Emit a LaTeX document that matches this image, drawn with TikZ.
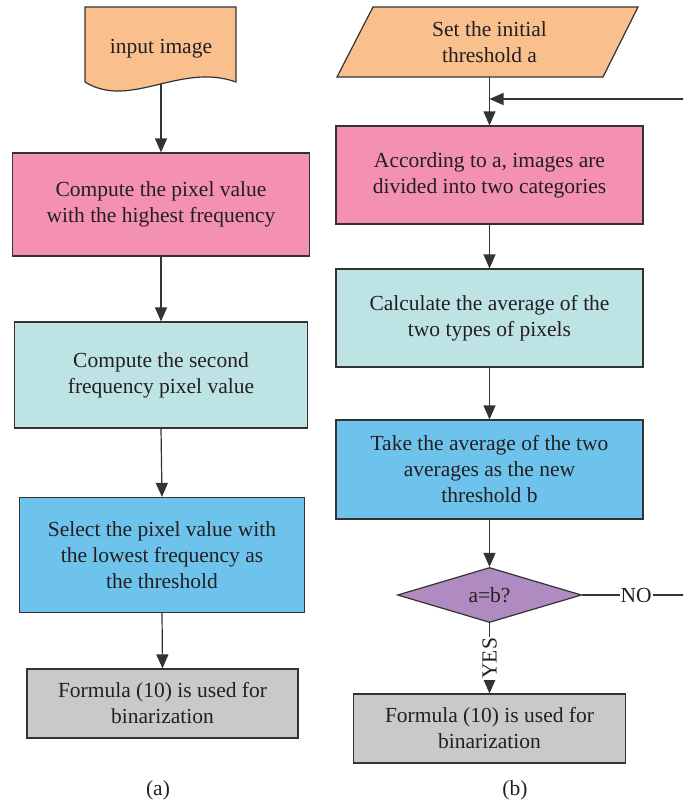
\documentclass[tikz,border=0pt]{standalone}
\usepackage{fontspec}
\setmainfont{Liberation Serif}
\usetikzlibrary{arrows.meta,shapes.geometric}
\definecolor{orangef}{HTML}{F9C08E}
\definecolor{pinkf}{HTML}{F390B4}
\definecolor{cyanf}{HTML}{BEE3E4}
\definecolor{bluef}{HTML}{6EC3EC}
\definecolor{grayf}{HTML}{C8C9CB}
\definecolor{purplef}{HTML}{B08BC2}
\definecolor{linec}{HTML}{333333}
\definecolor{textc}{HTML}{231F20}
\tikzset{
  every node/.style={font=\fontsize{21.5}{26}\selectfont, text=textc},
  flowbox/.style={draw=linec, line width=1.2pt, align=center, inner sep=0pt},
  flowarrow/.style={draw=linec, line width=1.2pt, -{Triangle[length=14pt,width=12pt]}},
  flowline/.style={draw=linec, line width=1.2pt},
  lbl/.style={fill=white, inner sep=1pt}
}
\begin{document}
\begin{tikzpicture}[x=1pt,y=-1pt]
\useasboundingbox (0,0) rectangle (683,803);
\clip (0,0) rectangle (683,803);
% ---------- (a) ----------
\fill[orangef] (85,7) -- (236,7) -- (236,82) .. controls (180,62) and (130,110) .. (85,82) -- cycle;
\draw[flowline] (85,7) -- (236,7) -- (236,82) .. controls (180,62) and (130,110) .. (85,82) -- cycle;
\node[align=center, inner sep=0pt, minimum height=70pt, minimum width=151pt] (inp) at (161,49) {input image};
\node[flowbox, fill=pinkf, minimum width=297pt, minimum height=103pt] (a1) at (161,204.5) {Compute the pixel value\\with the highest frequency};
\node[flowbox, fill=cyanf, minimum width=293pt, minimum height=106pt] (a2) at (161,375) {Compute the second\\frequency pixel value};
\node[flowbox, fill=bluef, minimum width=285pt, minimum height=115pt] (a3) at (162,555) {Select the pixel value with\\the lowest frequency as\\the threshold};
\node[flowbox, fill=grayf, minimum width=271pt, minimum height=69pt] (a4) at (162.5,703.5) {Formula (10) is used for\\binarization};
\draw[flowarrow] (inp.south) -- (a1.north);
\draw[flowarrow] (a1.south) -- (a2.north);
\draw[flowarrow] (a2.south) -- (a3.north);
\draw[flowarrow] (a3.south) -- (a4.north);
\node (capa) at (158,790) {(a)};
% ---------- (b) ----------
\fill[orangef] (373,7) -- (638,7) -- (603,77) -- (337,77) -- cycle;
\draw[flowline] (373,7) -- (638,7) -- (603,77) -- (337,77) -- cycle;
\node[align=center, inner sep=0pt, minimum height=70pt, minimum width=200pt] (b0) at (489.5,42) {Set the initial\\threshold a};
\node[flowbox, fill=pinkf, minimum width=307pt, minimum height=98pt] (b1) at (489.5,175) {According to a, images are\\divided into two categories};
\node[flowbox, fill=cyanf, minimum width=307pt, minimum height=98pt] (b2) at (489.5,318) {Calculate the average of the\\two types of pixels};
\node[flowbox, fill=bluef, minimum width=307pt, minimum height=99pt] (b3) at (489.5,469.5) {Take the average of the two\\averages as the new\\threshold b};
\node[flowbox, diamond, aspect=3.3, fill=purplef, minimum width=184pt, minimum height=55pt] (dia) at (489.5,595) {a=b?};
\node[flowbox, fill=grayf, minimum width=272pt, minimum height=69pt] (b4) at (489.5,728.5) {Formula (10) is used for\\binarization};
\coordinate (join) at (489.5,99);
\coordinate (farbot) at (690,595);
\coordinate (fartop) at (690,99);
\draw[flowarrow] (b0.south) -- (b1.north);
\draw[flowarrow] (b1.south) -- (b2.north);
\draw[flowarrow] (b2.south) -- (b3.north);
\draw[flowarrow] (b3.south) -- (dia.north);
\draw[flowarrow] (dia.south) -- node[lbl, rotate=90, pos=0.5] {YES} (b4.north);
\draw[flowline] (dia.east) -- node[lbl, pos=0.5] {NO} (farbot) -- (fartop);
\draw[flowarrow] (fartop) -- (join);
\node (capb) at (515,790) {(b)};
\end{tikzpicture}
\end{document}
